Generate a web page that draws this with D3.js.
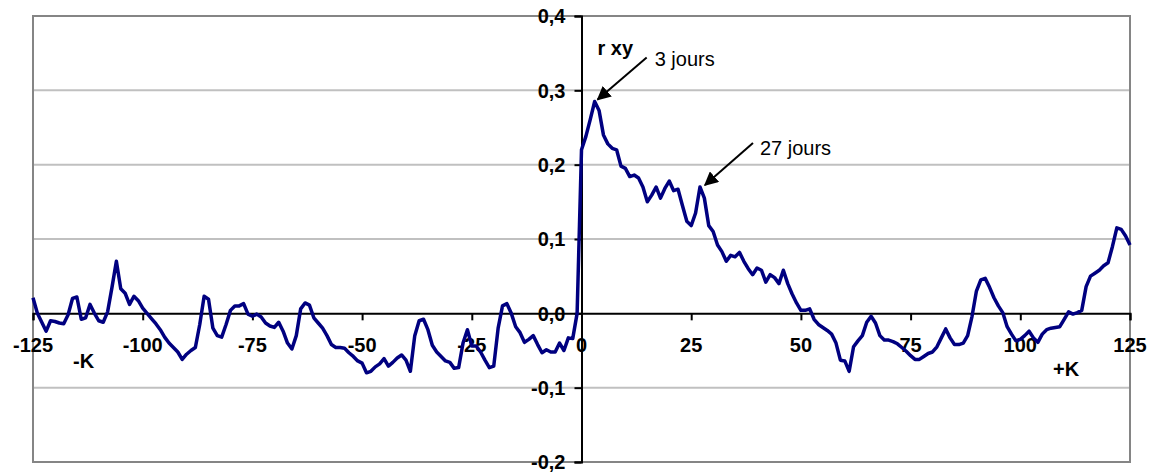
<!DOCTYPE html>
<html><head><meta charset="utf-8">
<script src="https://cdn.jsdelivr.net/npm/d3@7"></script>
<style>
body{margin:0;background:#fff}
svg{display:block}
text{font-family:"Liberation Sans",Arial,Helvetica,sans-serif}
</style>
</head><body>
<svg id="chart" width="1155" height="474"></svg>
<script>
// ---- data ----
const lags = d3.range(-125, 126);
const rxy = [
  0.021, 0.000, -0.012, -0.024, -0.010, -0.011, -0.013, -0.014, -0.002, 0.020,   // -125..-116
  0.022, -0.008, -0.006, 0.012, 0.000, -0.010, -0.012, 0.002, 0.035, 0.070,      // -115..-106
  0.033, 0.027, 0.012, 0.023, 0.017, 0.007, 0.000, -0.007, -0.014, -0.022,       // -105..-96
  -0.032, -0.040, -0.046, -0.052, -0.062, -0.055, -0.050, -0.046, -0.015, 0.023,  // -95..-86
  0.019, -0.020, -0.030, -0.032, -0.015, 0.004, 0.010, 0.010, 0.013, -0.001,     // -85..-76
  -0.004, -0.001, -0.005, -0.013, -0.017, -0.019, -0.012, -0.024, -0.040, -0.048, // -75..-66
  -0.030, 0.006, 0.014, 0.011, -0.006, -0.013, -0.020, -0.030, -0.042, -0.046,   // -65..-56
  -0.046, -0.047, -0.053, -0.058, -0.064, -0.067, -0.080, -0.078, -0.072, -0.068, // -55..-46
  -0.061, -0.071, -0.066, -0.060, -0.056, -0.063, -0.078, -0.030, -0.010, -0.008, // -45..-36
  -0.022, -0.043, -0.052, -0.058, -0.064, -0.066, -0.074, -0.073, -0.040, -0.022, // -35..-26
  -0.044, -0.044, -0.052, -0.063, -0.073, -0.071, -0.020, 0.010, 0.013, 0.000,   // -25..-16
  -0.018, -0.026, -0.039, -0.035, -0.030, -0.042, -0.053, -0.049, -0.052, -0.052, // -15..-6
  -0.040, -0.050, -0.033, -0.034, 0.000,                                           // -5..-1
  0.220,                                                                           // 0
  0.238, 0.261, 0.285, 0.273, 0.240, 0.228, 0.222, 0.220, 0.198, 0.195,          // 1..10
  0.184, 0.186, 0.182, 0.170, 0.150, 0.159, 0.170, 0.155, 0.168, 0.178,          // 11..20
  0.165, 0.167, 0.145, 0.124, 0.118, 0.135, 0.170, 0.155, 0.118, 0.110,          // 21..30
  0.092, 0.083, 0.070, 0.078, 0.076, 0.082, 0.070, 0.060, 0.052, 0.061,          // 31..40
  0.058, 0.042, 0.052, 0.048, 0.040, 0.058, 0.040, 0.026, 0.014, 0.004,          // 41..50
  0.004, 0.006, -0.008, -0.015, -0.019, -0.023, -0.028, -0.040, -0.063, -0.064,  // 51..60
  -0.078, -0.045, -0.037, -0.030, -0.012, -0.004, -0.013, -0.030, -0.036, -0.036, // 61..70
  -0.038, -0.041, -0.046, -0.051, -0.057, -0.062, -0.062, -0.058, -0.054, -0.052, // 71..80
  -0.045, -0.033, -0.021, -0.033, -0.042, -0.042, -0.040, -0.030, -0.004, 0.030,  // 81..90
  0.045, 0.047, 0.035, 0.021, 0.010, 0.001, -0.018, -0.028, -0.037, -0.035,      // 91..100
  -0.030, -0.024, -0.033, -0.039, -0.028, -0.022, -0.020, -0.019, -0.018, -0.008, // 101..110
  0.002, -0.001, 0.001, 0.004, 0.036, 0.050, 0.054, 0.058, 0.064, 0.068,         // 111..120
  0.090, 0.115, 0.113, 0.104, 0.092                                              // 121..125
];
const xTicks = [-125, -100, -75, -50, -25, 0, 25, 50, 75, 100, 125];
const yTicks = [-0.2, -0.1, 0.0, 0.1, 0.2, 0.3, 0.4];
const yTickLabels = ["-0,2", "-0,1", "0,0", "0,1", "0,2", "0,3", "0,4"];
const annotationLabels = ["3 jours", "27 jours"];
const annotationLags = [3, 27];
const yAxisTitle = "r xy";
const negLabel = "-K";
const posLabel = "+K";

// ---- drawing ----
const svg = d3.select("#chart");
const L = 33, R = 1130, T = 16, B = 462;
const x = d3.scaleLinear().domain([-125, 125]).range([L, R]);
const y = d3.scaleLinear().domain([-0.2, 0.4]).range([B, T]);
const FS = 20;

// gridlines
svg.append("g").selectAll("line").data(yTicks.filter(v => Math.abs(v) > 1e-9))
  .join("line")
  .attr("x1", L).attr("x2", R)
  .attr("y1", d => y(d)).attr("y2", d => y(d))
  .attr("stroke", "#c0c0c0").attr("stroke-width", 2);

// plot border
svg.append("rect").attr("x", L).attr("y", T).attr("width", R - L).attr("height", B - T)
  .attr("fill", "none").attr("stroke", "#858585").attr("stroke-width", 2);

// x axis at y=0
const xAxis = d3.axisBottom(x).tickValues(xTicks).tickSize(7).tickFormat(() => "");
const gx = svg.append("g").attr("transform", `translate(0,${y(0)})`).call(xAxis);
gx.select(".domain").attr("stroke", "#000").attr("stroke-width", 2);
gx.selectAll(".tick line").attr("stroke", "#000").attr("stroke-width", 2);
svg.append("g").selectAll("text").data(xTicks).join("text")
  .attr("x", d => x(d)).attr("y", y(0) + 39)
  .attr("text-anchor", "middle")
  .attr("font-size", FS).attr("font-weight", "bold").attr("fill", "#000")
  .text(d => String(d));

// y axis at x=0
const yAxis = d3.axisLeft(y).tickValues(yTicks).tickSize(7).tickFormat(() => "");
const gy = svg.append("g").attr("transform", `translate(${x(0)},0)`).call(yAxis);
gy.select(".domain").attr("stroke", "#000").attr("stroke-width", 2);
gy.selectAll(".tick line").attr("stroke", "#000").attr("stroke-width", 2);
svg.append("g").selectAll("text").data(yTicks).join("text")
  .attr("x", x(0) - 16).attr("y", d => y(d))
  .attr("dy", "0.36em")
  .attr("text-anchor", "end")
  .attr("font-size", FS).attr("font-weight", "bold").attr("fill", "#000")
  .text((d, i) => yTickLabels[i]);

// series line
const line = d3.line().x((d, i) => x(lags[i])).y(d => y(d));
svg.append("path").datum(rxy)
  .attr("d", line)
  .attr("fill", "none").attr("stroke", "#000080").attr("stroke-width", 3.5)
  .attr("stroke-linejoin", "round");

// axis annotations
svg.append("text").attr("x", x(0) + 16).attr("y", 55)
  .attr("font-size", FS).attr("font-weight", "bold").text(yAxisTitle);
svg.append("text").attr("x", x(-125) + 40).attr("y", y(0) + 55)
  .attr("font-size", FS).attr("font-weight", "bold").text(negLabel);
svg.append("text").attr("x", x(125) - 77).attr("y", y(0) + 63)
  .attr("font-size", FS).attr("font-weight", "bold").text(posLabel);

// arrows
svg.append("defs").append("marker")
  .attr("id", "ah").attr("viewBox", "0 0 10 10").attr("refX", 9).attr("refY", 5)
  .attr("markerWidth", 7).attr("markerHeight", 7).attr("markerUnits", "strokeWidth")
  .attr("orient", "auto")
  .append("path").attr("d", "M0,0 L10,5 L0,10 Z").attr("fill", "#000");

const arrowStarts = [[49, -42], [48, -42]];
const tipOffsets = [[3, -2], [5, -2]];
const textOffsets = [[57, -33], [55, -30]];
annotationLags.forEach((lg, i) => {
  const v = rxy[lags.indexOf(lg)];
  const tx = x(lg) + tipOffsets[i][0], ty = y(v) + tipOffsets[i][1];
  svg.append("line")
    .attr("x1", tx + arrowStarts[i][0]).attr("y1", ty + arrowStarts[i][1])
    .attr("x2", tx).attr("y2", ty)
    .attr("stroke", "#000").attr("stroke-width", 2)
    .attr("marker-end", "url(#ah)");
  svg.append("text")
    .attr("x", tx + textOffsets[i][0]).attr("y", ty + textOffsets[i][1])
    .attr("font-size", FS).attr("fill", "#000")
    .text(annotationLabels[i]);
});
</script>
</body></html>
